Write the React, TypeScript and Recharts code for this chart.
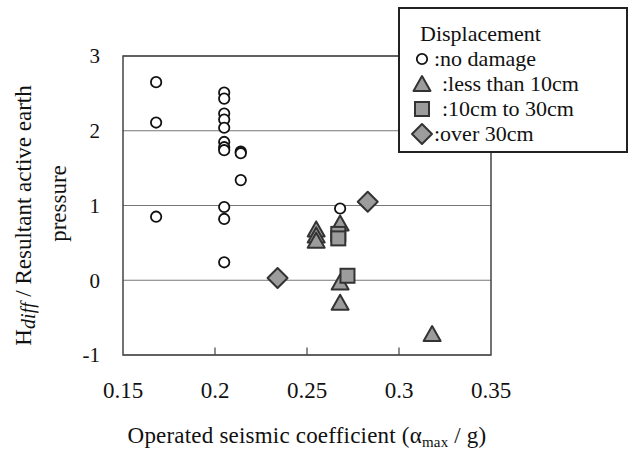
import {
  CartesianGrid,
  Legend,
  ReferenceArea,
  ReferenceLine,
  Scatter,
  ScatterChart,
  XAxis,
  YAxis,
} from "recharts";

const FONT = "'Liberation Serif', 'DejaVu Serif', serif";

// [seismic coefficient, Hdiff / resultant active earth pressure]
const noDamage: [number, number][] = [
  [0.168, 2.65], [0.168, 2.11], [0.168, 0.85],
  [0.205, 2.51], [0.205, 2.43], [0.205, 2.23], [0.205, 2.15], [0.205, 2.04],
  [0.205, 1.85], [0.205, 1.78], [0.205, 1.74], [0.205, 0.98], [0.205, 0.82],
  [0.205, 0.24],
  [0.214, 1.72], [0.214, 1.7], [0.214, 1.34],
  [0.268, 0.96],
];
const lessThan10: [number, number][] = [
  [0.255, 0.68], [0.255, 0.6], [0.255, 0.53],
  [0.268, 0.76], [0.268, -0.03], [0.268, -0.3],
  [0.318, -0.72],
];
const from10to30: [number, number][] = [
  [0.267, 0.62], [0.267, 0.56], [0.272, 0.06],
];
const over30: [number, number][] = [
  [0.234, 0.03], [0.283, 1.05],
];

const xTicks = [0.15, 0.2, 0.25, 0.3, 0.35];
const yTicks = [-1, 0, 1, 2, 3];
const innerTicks = [0.2, 0.25, 0.3];

const toPoints = (arr: [number, number][]) => arr.map(([x, y]) => ({ x, y }));

const GRAY = "#9c9c9c";
const EDGE = "#333";

const circleShape = (p: any) => (
  <circle cx={p.cx} cy={p.cy} r={5.2} fill="#fff" stroke="#111" strokeWidth={1.8} />
);
const triangleShape = (p: any) => (
  <path
    d={`M${p.cx},${p.cy - 8} L${p.cx + 8.5},${p.cy + 7} L${p.cx - 8.5},${p.cy + 7} Z`}
    fill={GRAY}
    stroke={EDGE}
    strokeWidth={2}
    strokeLinejoin="round"
  />
);
const squareShape = (p: any) => (
  <rect x={p.cx - 7} y={p.cy - 7} width={14} height={14} fill={GRAY} stroke={EDGE} strokeWidth={2} />
);
const diamondShape = (p: any) => (
  <path
    d={`M${p.cx},${p.cy - 10} L${p.cx + 10},${p.cy} L${p.cx},${p.cy + 10} L${p.cx - 10},${p.cy} Z`}
    fill={GRAY}
    stroke={EDGE}
    strokeWidth={2}
    strokeLinejoin="round"
  />
);

const legendRows = [
  { label: ":no damage", shape: circleShape, pad: 0 },
  { label: ":less than 10cm", shape: triangleShape, pad: 8 },
  { label: ":10cm to 30cm", shape: squareShape, pad: 8 },
  { label: ":over 30cm", shape: diamondShape, pad: 0 },
];

const renderLegend = () => (
  <div
    style={{
      boxSizing: "border-box",
      width: 230,
      height: 146,
      border: "2px solid #222",
      background: "#fff",
      fontFamily: FONT,
      fontSize: 22,
      color: "#111",
      padding: "12px 0 0 10px",
      lineHeight: "25px",
      textAlign: "left",
    }}
  >
    <div style={{ marginLeft: 10 }}>Displacement</div>
    {legendRows.map((r) => (
      <div key={r.label} style={{ display: "flex", alignItems: "center", height: 25 }}>
        <svg width={24} height={24} style={{ flex: "none" }}>
          {r.shape({ cx: 12, cy: 12 })}
        </svg>
        <span style={{ marginLeft: r.pad }}>{r.label}</span>
      </div>
    ))}
  </div>
);

// rotated two-line title; drawn as html so the subscript does not upset centring
const YLabel = (props: any) => {
  const vb = props.viewBox;
  const mid = vb.y + vb.height / 2;
  const lines = [
    {
      cx: vb.x - 40,
      cy: mid + 10,
      body: (
        <>
          H
          <sub style={{ fontStyle: "italic", fontSize: 20, verticalAlign: "-4px" }}>diff</sub> / Resultant active earth
        </>
      ),
    },
    { cx: vb.x - 5, cy: mid - 2, body: <>pressure</> },
  ];
  return (
    <g>
      {lines.map((l, i) => (
        <foreignObject
          key={i}
          x={l.cx - 200}
          y={l.cy - 15}
          width={400}
          height={30}
          transform={`rotate(-90 ${l.cx} ${l.cy})`}
        >
          <div
            style={{
              width: 400,
              height: 30,
              lineHeight: "30px",
              textAlign: "center",
              fontFamily: FONT,
              fontSize: 23,
              color: "#111",
              whiteSpace: "nowrap",
            }}
          >
            {l.body}
          </div>
        </foreignObject>
      ))}
    </g>
  );
};

const XLabel = (props: any) => {
  const vb = props.viewBox;
  const cx = vb.x + vb.width / 2;
  return (
    <text
      x={cx}
      y={vb.y + 88}
      textAnchor="middle"
      style={{ fontFamily: FONT, letterSpacing: 0.2 }}
      fontSize={23}
      fill="#111"
    >
      Operated seismic coefficient (α
      <tspan fontSize={15} dy={4}>max</tspan>
      <tspan dy={-4}> / g)</tspan>
    </text>
  );
};

export default function App() {
  return (
    <div
      style={{
        position: "absolute",
        left: 0,
        top: 0,
        width: 633,
        height: 449,
        background: "#fff",
        fontFamily: FONT,
      }}
    >
      <ScatterChart width={633} height={449} margin={{ top: 56, right: 142, bottom: 64, left: 63 }}>
        <CartesianGrid vertical={false} stroke="#777" strokeWidth={1.2} />
        <XAxis
          type="number"
          dataKey="x"
          domain={[0.15, 0.35]}
          ticks={xTicks}
          tickFormatter={(v) => String(v)}
          axisLine={false}
          tickLine={false}
          tickSize={6}
          tickMargin={21}
          height={30}
          tick={{ fill: "#111", fontSize: 23, style: { fontFamily: FONT } }}
          label={{ content: XLabel }}
        />
        <YAxis
          type="number"
          dataKey="y"
          domain={[-1, 3]}
          ticks={yTicks}
          axisLine={false}
          tickLine={false}
          tickSize={6}
          tickMargin={17}
          width={60}
          tick={{ fill: "#111", fontSize: 21, style: { fontFamily: FONT } }}
          label={{ content: YLabel }}
        />
        <ReferenceArea x1={0.15} x2={0.35} y1={-1} y2={3} fill="none" stroke="#444" strokeWidth={1.5} />
        {innerTicks.map((t) => (
          <ReferenceLine
            key={t}
            segment={[{ x: t, y: -1 }, { x: t, y: -0.9 }]}
            stroke="#444"
            strokeWidth={1.2}
          />
        ))}
        <Scatter name="no damage" data={toPoints(noDamage)} shape={circleShape} isAnimationActive={false} />
        <Scatter name="less than 10cm" data={toPoints(lessThan10)} shape={triangleShape} isAnimationActive={false} />
        <Scatter name="10cm to 30cm" data={toPoints(from10to30)} shape={squareShape} isAnimationActive={false} />
        <Scatter name="over 30cm" data={toPoints(over30)} shape={diamondShape} isAnimationActive={false} />
        <Legend
          content={renderLegend}
          layout="horizontal"
          verticalAlign="middle"
          wrapperStyle={{ position: "absolute", left: 398, top: 7, width: 230, height: 146 }}
        />
      </ScatterChart>
    </div>
  );
}
